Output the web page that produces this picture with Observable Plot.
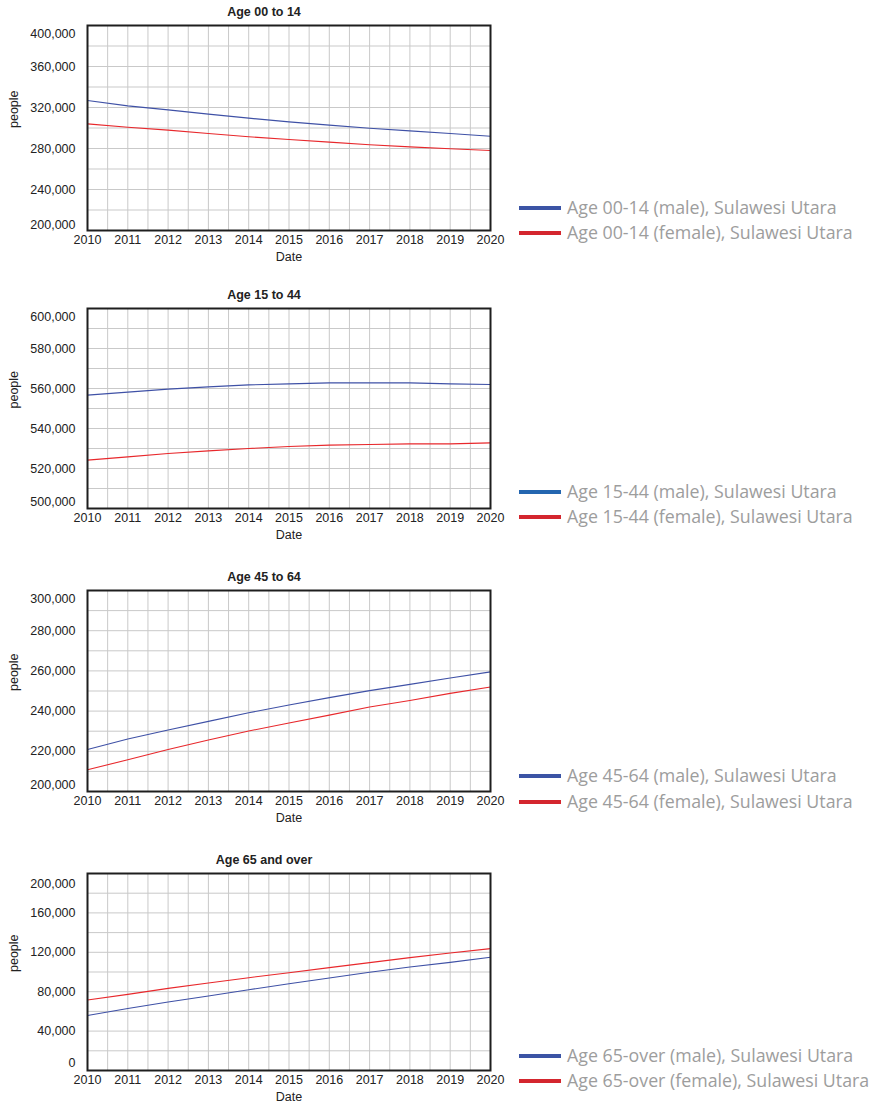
<!DOCTYPE html>
<html>
<head>
<meta charset="utf-8">
<script src="https://cdn.jsdelivr.net/npm/d3@7"></script>
<script src="https://cdn.jsdelivr.net/npm/@observablehq/plot@0.6"></script>
<style>
  body { margin: 0; background: #fff; }
  #root { position: relative; width: 881px; height: 1104px; background: #fff; overflow: hidden; }
  .panel { position: absolute; left: 0; }
  .sw { position: absolute; left: 519px; width: 42px; height: 4px; }
  .lt { position: absolute; left: 567px; font-family: "Open Sans", sans-serif; font-size: 17.8px; color: #9d9d9d; white-space: nowrap; line-height: 20px; }
</style>
</head>
<body>
<div id="root"></div>
<script>
// ---- data ----
const years = [2010, 2011, 2012, 2013, 2014, 2015, 2016, 2017, 2018, 2019, 2020];

const titles = ["Age 00 to 14", "Age 15 to 44", "Age 45 to 64", "Age 65 and over"];

const age0014Male   = [326800, 321600, 317700, 313500, 309600, 306000, 302800, 299800, 297200, 294600, 292000];
const age0014Female = [304000, 300800, 297900, 294600, 291400, 288800, 286200, 283600, 281600, 279700, 278000];

const age1544Male   = [556700, 558200, 559700, 560800, 561800, 562300, 562800, 562800, 562800, 562300, 562000];
const age1544Female = [524200, 525800, 527500, 528800, 530000, 531000, 531700, 532000, 532300, 532300, 532800];

const age4564Male   = [220900, 226100, 230600, 234900, 239200, 243000, 246700, 250200, 253300, 256500, 259500];
const age4564Female = [210800, 215800, 220900, 225600, 230100, 234100, 238000, 242000, 245300, 248800, 252000];

const age65Male     = [55900, 63000, 69500, 75600, 82000, 88100, 93900, 99700, 105100, 109800, 114900];
const age65Female   = [71500, 77300, 83400, 88800, 94200, 99300, 104400, 109500, 114600, 119300, 123700];

const legendMale   = ["Age 00-14 (male), Sulawesi Utara", "Age 15-44 (male), Sulawesi Utara", "Age 45-64 (male), Sulawesi Utara", "Age 65-over (male), Sulawesi Utara"];
const legendFemale = ["Age 00-14 (female), Sulawesi Utara", "Age 15-44 (female), Sulawesi Utara", "Age 45-64 (female), Sulawesi Utara", "Age 65-over (female), Sulawesi Utara"];

const yDomains   = [[200000, 400000], [500000, 600000], [200000, 300000], [0, 200000]];
const yLabelStep = [40000, 20000, 20000, 40000];
const yGridStep  = [20000, 10000, 10000, 20000];

const maleSeries   = [age0014Male, age1544Male, age4564Male, age65Male];
const femaleSeries = [age0014Female, age1544Female, age4564Female, age65Female];

// ---- layout (not data) ----
const svgTops    = [0, 283, 565, 848];
const frameHeights = [205, 200, 201, 197];
const legendY    = [[208, 233], [492, 517], [776, 802], [1056, 1081]];
const topDy      = [8, 8, 8, 10];
const botDy      = [-6, -7, -7, -8];
const maleLegendColor = ["#3b54a5", "#2466b0", "#3b54a5", "#3b54a5"];
const femaleLegendColor = "#d4262e";
const maleLine = "#3f51a6";
const femaleLine = "#e8282c";

const root = document.getElementById("root");
const fmt = d3.format(",");
const halfYears = d3.range(2010, 2020.001, 0.5);
const FS = 12.5;

for (let i = 0; i < 4; i++) {
  const [y0, y1] = yDomains[i];
  const labelTicks = d3.range(y0, y1 + 1, yLabelStep[i]);
  const gridTicks = d3.range(y0, y1 + 1, yGridStep[i]);
  const midTicks = labelTicks.slice(1, -1);
  const rows = [];
  years.forEach((yr, k) => {
    rows.push({year: yr, value: maleSeries[i][k], sex: "male"});
    rows.push({year: yr, value: femaleSeries[i][k], sex: "female"});
  });
  const chart = Plot.plot({
    width: 515,
    height: frameHeights[i] + 60,
    marginLeft: 87,
    marginRight: 25,
    marginTop: 25,
    marginBottom: 35,
    style: {fontFamily: "'Liberation Sans', Arial, sans-serif", fontSize: FS + "px", color: "#222", background: "transparent", overflow: "visible"},
    x: {domain: [2010, 2020]},
    y: {domain: [y0, y1]},
    marks: [
      Plot.gridX(halfYears, {stroke: "#c9c9c9", strokeOpacity: 1, strokeWidth: 1}),
      Plot.gridY(gridTicks, {stroke: "#c9c9c9", strokeOpacity: 1, strokeWidth: 1}),
      Plot.line(rows.filter(d => d.sex === "male"), {x: "year", y: "value", stroke: maleLine, strokeWidth: 1.1}),
      Plot.line(rows.filter(d => d.sex === "female"), {x: "year", y: "value", stroke: femaleLine, strokeWidth: 1.1}),
      Plot.frame({stroke: "#1e1e1e", strokeWidth: 2}),
      Plot.axisX(years, {tickSize: 0, tickPadding: 5, tickFormat: d => String(d), label: null, fontSize: FS, fill: "#222"}),
      Plot.axisY(midTicks, {tickSize: 0, tickPadding: 12, tickFormat: fmt, label: null, fontSize: FS, fill: "#222"}),
      Plot.axisY([y1], {tickSize: 0, tickPadding: 12, tickFormat: fmt, label: null, fontSize: FS, dy: topDy[i], fill: "#222"}),
      Plot.axisY([y0], {tickSize: 0, tickPadding: 12, tickFormat: fmt, label: null, fontSize: FS, dy: botDy[i], fill: "#222"}),
      Plot.text(["Date"], {frameAnchor: "bottom", dy: 26, lineAnchor: "middle", fontSize: FS, fill: "#222"}),
      Plot.text(["people"], {frameAnchor: "left", dx: -74, rotate: -90, fontSize: FS, fill: "#222"}),
      Plot.text([titles[i]], {frameAnchor: "top", dy: -14, dx: -25, lineAnchor: "middle", fontSize: FS, fontWeight: "bold", fill: "#222"})
    ]
  });
  const div = document.createElement("div");
  div.className = "panel";
  div.style.top = svgTops[i] + "px";
  div.appendChild(chart);
  root.appendChild(div);

  const entries = [[legendMale[i], maleLegendColor[i]], [legendFemale[i], femaleLegendColor]];
  entries.forEach(([label, color], j) => {
    const cy = legendY[i][j];
    const sw = document.createElement("div");
    sw.className = "sw";
    sw.style.top = (cy - 2) + "px";
    sw.style.background = color;
    root.appendChild(sw);
    const t = document.createElement("div");
    t.className = "lt";
    t.style.top = (cy - 11) + "px";
    t.textContent = label;
    root.appendChild(t);
  });
}
</script>
</body>
</html>
